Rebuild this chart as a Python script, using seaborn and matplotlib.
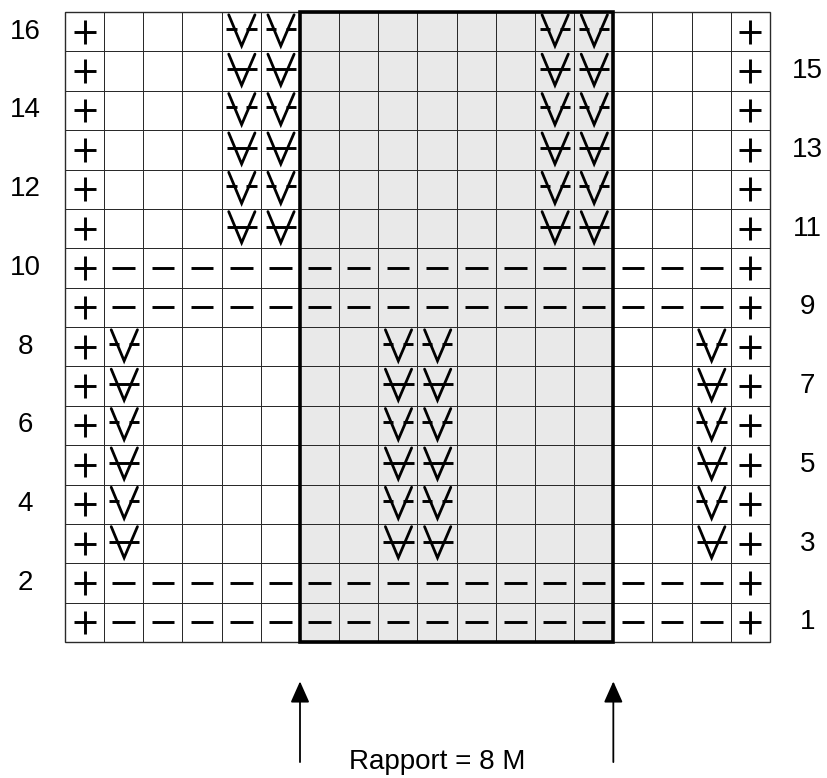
import numpy as np
import pandas as pd
import matplotlib.pyplot as plt
import seaborn as sns
from matplotlib.colors import ListedColormap
from matplotlib.patches import Rectangle

# Strickschrift, Reihen von oben (16) nach unten (1)
# '+' rechte M, '-' linke M, 'a' / 'b' V-Zeichen (gerade / ungerade Reihe), '.' leer
chart_rows = [
    "+...aa......aa...+",  # 16
    "+...bb......bb...+",  # 15
    "+...aa......aa...+",  # 14
    "+...bb......bb...+",  # 13
    "+...aa......aa...+",  # 12
    "+...bb......bb...+",  # 11
    "+----------------+",  # 10
    "+----------------+",  # 9
    "+a......aa......a+",  # 8
    "+b......bb......b+",  # 7
    "+a......aa......a+",  # 6
    "+b......bb......b+",  # 5
    "+a......aa......a+",  # 4
    "+b......bb......b+",  # 3
    "+----------------+",  # 2
    "+----------------+",  # 1
]
row_numbers = list(range(16, 0, -1))
repeat_start = 6
repeat_width = 8
repeat_label = "Rapport = 8 M"

n_rows = len(chart_rows)
n_cols = len(chart_rows[0])

shade = np.zeros((n_rows, n_cols))
shade[:, repeat_start:repeat_start + repeat_width] = 1
shade_df = pd.DataFrame(shade, index=row_numbers)

sns.set_style("white")
plt.rcParams['font.family'] = ['Liberation Sans', 'DejaVu Sans']
plt.rcParams['text.color'] = 'black'

fig = plt.figure(figsize=(8.28, 7.78), dpi=100)
ax = fig.add_axes([65 / 828, 136 / 778, 705 / 828, 630 / 778])

sns.heatmap(shade_df, cmap=ListedColormap(['white', '#e9e9e9']), cbar=False,
            linewidths=0.7, linecolor='#2a2a2a', xticklabels=False,
            yticklabels=False, ax=ax)

# Außenrahmen
ax.add_patch(Rectangle((0, 0), n_cols, n_rows, fill=False, lw=1.0,
                       edgecolor='#2a2a2a', clip_on=False, zorder=4))

sym = dict(color='black', lw=2.1, solid_capstyle='butt')
for r, row in enumerate(chart_rows):
    for c, ch in enumerate(row):
        x0, y0 = c, r
        if ch == '+':
            ax.plot([x0 + 0.22, x0 + 0.78], [y0 + 0.5, y0 + 0.5], **sym)
            ax.plot([x0 + 0.5, x0 + 0.5], [y0 + 0.2, y0 + 0.8], **sym)
        elif ch == '-':
            ax.plot([x0 + 0.21, x0 + 0.79], [y0 + 0.5, y0 + 0.5], **sym)
        elif ch in 'ab':
            ax.plot([x0 + 0.18, x0 + 0.51, x0 + 0.85],
                    [y0 + 0.07, y0 + 0.86, y0 + 0.07],
                    color='black', lw=2.0, solid_joinstyle='miter')
            if ch == 'a':
                ax.plot([x0 + 0.12, x0 + 0.38], [y0 + 0.42, y0 + 0.42], **sym)
                ax.plot([x0 + 0.63, x0 + 0.89], [y0 + 0.42, y0 + 0.42], **sym)
            else:
                ax.plot([x0 + 0.13, x0 + 0.9], [y0 + 0.46, y0 + 0.46], **sym)

ax.add_patch(Rectangle((repeat_start, 0), repeat_width, n_rows, fill=False,
                       lw=2.6, edgecolor='black', clip_on=False, zorder=5))

# Reihennummern: gerade links, ungerade rechts
for r, num in enumerate(row_numbers):
    if num % 2 == 0:
        ax.text(-1.02, r + 0.5, str(num), ha='center', va='center', fontsize=20)
    else:
        ax.text(18.95, r + 0.5, str(num), ha='center', va='center', fontsize=20)

for xa in [repeat_start, repeat_start + repeat_width]:
    ax.annotate('', xy=(xa, n_rows + 1.0), xytext=(xa, n_rows + 3.05),
                arrowprops=dict(arrowstyle='-|>,head_length=0.65,head_width=0.29',
                                color='black', lw=1.3, mutation_scale=20,
                                shrinkA=0, shrinkB=0),
                annotation_clip=False)

ax.text(repeat_start + repeat_width / 2 - 0.5, n_rows + 3.22, repeat_label,
        ha='center', va='baseline', fontsize=20)

for s in ax.spines.values():
    s.set_visible(False)

plt.savefig("out.png", dpi=100)
